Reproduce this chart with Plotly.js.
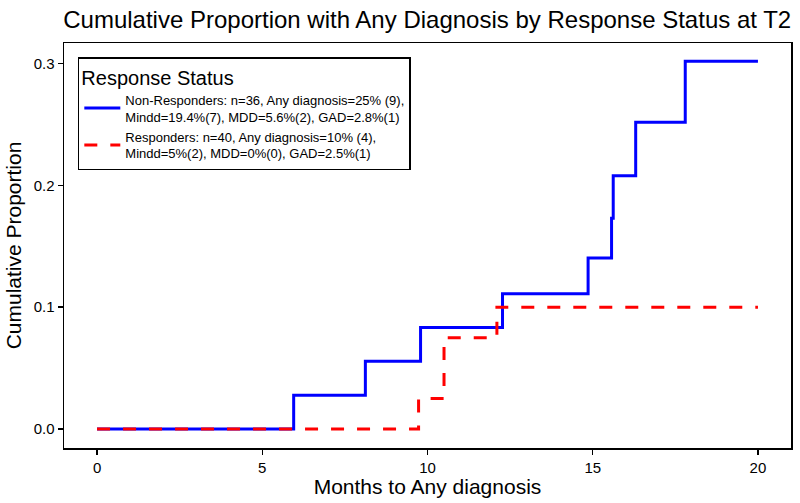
<!DOCTYPE html>
<html>
<head>
<meta charset="utf-8">
<script src="https://cdn.plot.ly/plotly-3.0.1.min.js"></script>
<style>
  html, body { margin: 0; padding: 0; background: #fff; }
  #chart { width: 800px; height: 503px; }
</style>
</head>
<body>
<div id="chart"></div>
<script>
// Step points (months, cumulative proportion)
const nonRespMonths = [0, 5.95, 8.12, 9.79, 12.27, 14.86, 15.57, 15.62, 16.3, 17.8, 20];
const nonRespProp = [0, 0.0278, 0.0556, 0.0833, 0.111, 0.1405, 0.173, 0.208, 0.252, 0.302, 0.302];

const respMonths = [0, 9.73, 10.5, 12.1, 20];
const respProp = [0, 0.025, 0.075, 0.1, 0.1];

const nonRespLabel = 'Non-Responders: n=36, Any diagnosis=25% (9),<br>Mindd=19.4%(7), MDD=5.6%(2), GAD=2.8%(1)';
const respLabel = 'Responders: n=40, Any diagnosis=10% (4),<br>Mindd=5%(2), MDD=0%(0), GAD=2.5%(1)';

const xTicks = [0, 5, 10, 15, 20];
const yTicks = [0, 0.1, 0.2, 0.3];

const font = 'Arial, "Liberation Sans", sans-serif';

const traces = [
  {
    x: nonRespMonths,
    y: nonRespProp,
    type: 'scatter',
    mode: 'lines',
    name: nonRespLabel,
    line: { color: 'rgb(0,0,255)', width: 3, shape: 'hv' }
  },
  {
    x: respMonths,
    y: respProp,
    type: 'scatter',
    mode: 'lines',
    name: respLabel,
    line: { color: 'rgb(255,0,0)', width: 3, shape: 'hv', dash: '13px,13px' }
  }
];

const layout = {
  width: 800,
  height: 503,
  margin: { l: 64, r: 9, t: 43, b: 55 },
  paper_bgcolor: '#fff',
  plot_bgcolor: '#fff',
  font: { family: font, color: '#000' },
  showlegend: true,
  title: {
    text: 'Cumulative Proportion with Any Diagnosis by Response Status at T2',
    font: { size: 24, family: font, color: '#000' },
    x: 0.534, xanchor: 'center',
    y: 0.962, yanchor: 'middle'
  },
  xaxis: {
    range: [-1, 21],
    tickvals: xTicks,
    ticktext: xTicks.map(String),
    ticks: 'outside', ticklen: 5, tickwidth: 1.5, tickcolor: '#000',
    tickfont: { size: 15 },
    showgrid: false, zeroline: false,
    showline: true, linecolor: '#000', linewidth: 1.5, mirror: true,
    title: { text: 'Months to Any diagnosis', font: { size: 21 }, standoff: 0 }
  },
  yaxis: {
    range: [-0.0156, 0.317],
    tickvals: yTicks,
    ticktext: yTicks.map(v => v.toFixed(1)),
    ticks: 'outside', ticklen: 5, tickwidth: 1.5, tickcolor: '#000',
    tickfont: { size: 15 },
    showgrid: false, zeroline: false,
    showline: true, linecolor: '#000', linewidth: 1.5, mirror: true,
    title: { text: 'Cumulative Proportion', font: { size: 21 }, standoff: 6 }
  },
  legend: {
    x: 0.019, y: 0.965, xanchor: 'left', yanchor: 'top',
    bgcolor: '#fff',
    bordercolor: '#000', borderwidth: 1.5,
    font: { size: 13, color: '#000' },
    title: { text: 'Response Status', font: { size: 20 } },
    itemwidth: 36,
    tracegroupgap: 6
  }
};

Plotly.newPlot('chart', traces, layout, { displayModeBar: false, staticPlot: true });
</script>
</body>
</html>
